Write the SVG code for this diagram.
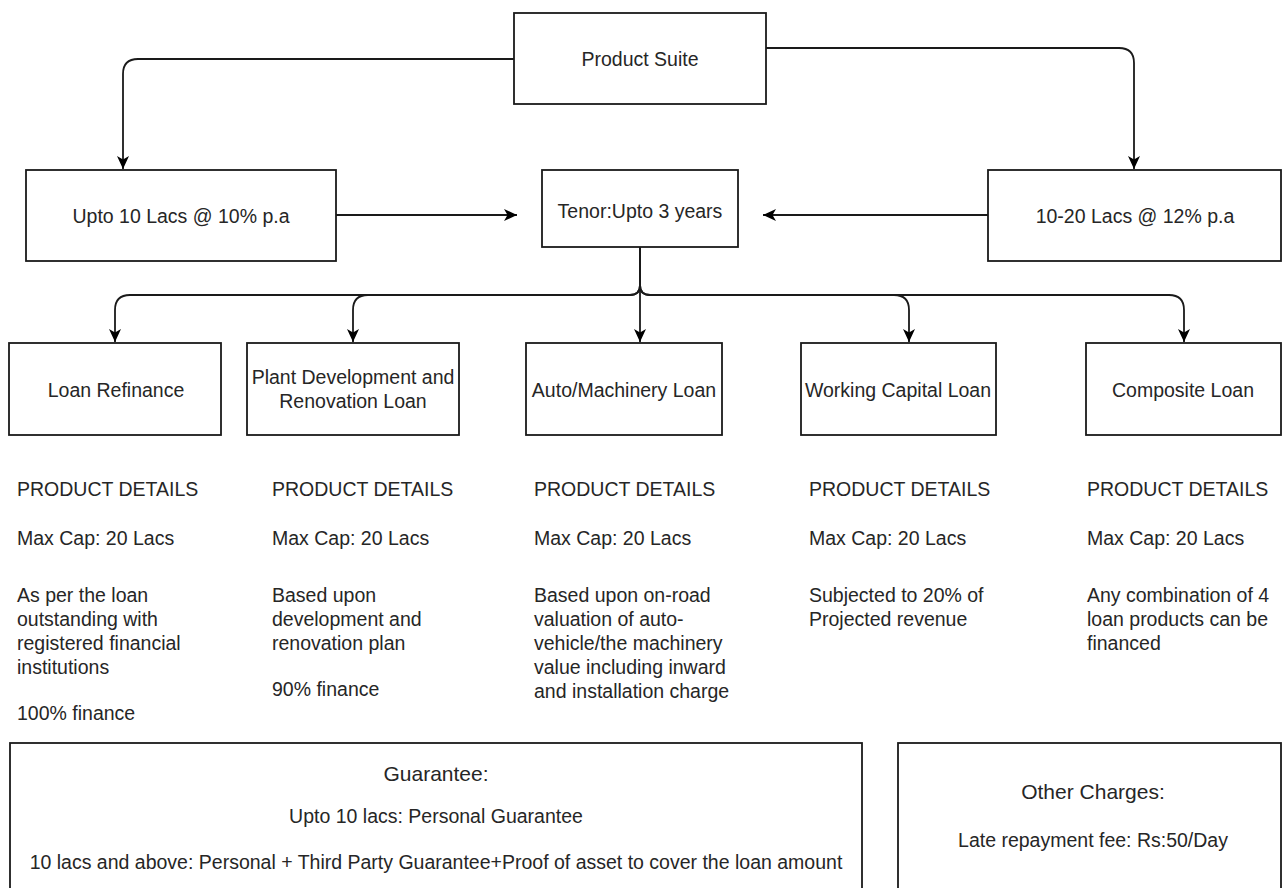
<svg xmlns="http://www.w3.org/2000/svg" width="1282" height="888" viewBox="0 0 1282 888">
<defs>
<marker id="arr" markerUnits="userSpaceOnUse" markerWidth="14" markerHeight="12" refX="13" refY="6" orient="auto">
<path d="M0,0 L13,6 L0,12 L3.5,6 Z" fill="#000"/>
</marker>
<style>
.box{fill:#fff;stroke:#1a1a1a;stroke-width:1.8}
.edge{fill:none;stroke:#1a1a1a;stroke-width:1.8}
text{font-family:"Liberation Sans",Arial,sans-serif;font-size:19.5px;fill:#262626}
.c{text-anchor:middle}
.h{font-size:21px}
</style>
</defs>
<rect width="1282" height="888" fill="#fff"/>
<g id="connectors">
<path class="edge" d="M514,59 H138 Q123,59 123,74 V169" marker-end="url(#arr)"/>
<path class="edge" d="M766,48 H1119 Q1134,48 1134,63 V169" marker-end="url(#arr)"/>
<path class="edge" d="M336,215 H517" marker-end="url(#arr)"/>
<path class="edge" d="M988,215 H763" marker-end="url(#arr)"/>
<path class="edge" d="M640,247 V342" marker-end="url(#arr)"/>
<path class="edge" d="M640,247 V285 Q640,295 630,295 H130 Q115,295 115,310 V342" marker-end="url(#arr)"/>
<path class="edge" d="M640,247 V285 Q640,295 630,295 H368 Q353,295 353,310 V342" marker-end="url(#arr)"/>
<path class="edge" d="M640,247 V285 Q640,295 650,295 H894 Q909,295 909,310 V342" marker-end="url(#arr)"/>
<path class="edge" d="M640,247 V285 Q640,295 650,295 H1169 Q1184,295 1184,310 V342" marker-end="url(#arr)"/>
</g>
<g id="product-suite">
<rect class="box" x="514" y="13" width="252" height="91"/>
<text class="c" x="640" y="66">Product Suite</text>
</g>
<g id="upto-10">
<rect class="box" x="26" y="170" width="310" height="91"/>
<text class="c" x="181" y="223">Upto 10 Lacs @ 10% p.a</text>
</g>
<g id="tenor">
<rect class="box" x="542" y="170" width="196" height="77"/>
<text class="c" x="640" y="218">Tenor:Upto 3 years</text>
</g>
<g id="lacs-10-20">
<rect class="box" x="988" y="170" width="293" height="91"/>
<text class="c" x="1135" y="223">10-20 Lacs @ 12% p.a</text>
</g>
<g id="loan-refinance">
<rect class="box" x="9" y="343" width="212" height="92"/>
<text class="c" x="116" y="397">Loan Refinance</text>
</g>
<g id="plant-development">
<rect class="box" x="247" y="343" width="212" height="92"/>
<text class="c" x="353" y="384">Plant Development and</text>
<text class="c" x="353" y="408">Renovation Loan</text>
</g>
<g id="auto-machinery">
<rect class="box" x="526" y="343" width="196" height="92"/>
<text class="c" x="624" y="397">Auto/Machinery Loan</text>
</g>
<g id="working-capital">
<rect class="box" x="801" y="343" width="195" height="92"/>
<text class="c" x="898" y="397">Working Capital Loan</text>
</g>
<g id="composite">
<rect class="box" x="1086" y="343" width="195" height="92"/>
<text class="c" x="1183" y="397">Composite Loan</text>
</g>
<g id="details-loan-refinance">
<text x="17" y="496">PRODUCT DETAILS</text>
<text x="17" y="545">Max Cap: 20 Lacs</text>
<text x="17" y="602">As per the loan</text>
<text x="17" y="626">outstanding with</text>
<text x="17" y="650">registered financial</text>
<text x="17" y="674">institutions</text>
<text x="17" y="720">100% finance</text>
</g>
<g id="details-plant">
<text x="272" y="496">PRODUCT DETAILS</text>
<text x="272" y="545">Max Cap: 20 Lacs</text>
<text x="272" y="602">Based upon</text>
<text x="272" y="626">development and</text>
<text x="272" y="650">renovation plan</text>
<text x="272" y="696">90% finance</text>
</g>
<g id="details-auto">
<text x="534" y="496">PRODUCT DETAILS</text>
<text x="534" y="545">Max Cap: 20 Lacs</text>
<text x="534" y="602">Based upon on-road</text>
<text x="534" y="626">valuation of auto-</text>
<text x="534" y="650">vehicle/the machinery</text>
<text x="534" y="674">value including inward</text>
<text x="534" y="698">and installation charge</text>
</g>
<g id="details-working">
<text x="809" y="496">PRODUCT DETAILS</text>
<text x="809" y="545">Max Cap: 20 Lacs</text>
<text x="809" y="602">Subjected to 20% of</text>
<text x="809" y="626">Projected revenue</text>
</g>
<g id="details-composite">
<text x="1087" y="496">PRODUCT DETAILS</text>
<text x="1087" y="545">Max Cap: 20 Lacs</text>
<text x="1087" y="602">Any combination of 4</text>
<text x="1087" y="626">loan products can be</text>
<text x="1087" y="650">financed</text>
</g>
<g id="guarantee">
<rect class="box" x="10" y="743" width="852" height="200"/>
<text class="c h" x="436" y="781">Guarantee:</text>
<text class="c" x="436" y="823">Upto 10 lacs: Personal Guarantee</text>
<text class="c" x="436" y="869">10 lacs and above: Personal + Third Party Guarantee+Proof of asset to cover the loan amount</text>
</g>
<g id="other-charges">
<rect class="box" x="898" y="743" width="383" height="200"/>
<text class="c h" x="1093" y="799">Other Charges:</text>
<text class="c" x="1093" y="847">Late repayment fee: Rs:50/Day</text>
</g>
</svg>
